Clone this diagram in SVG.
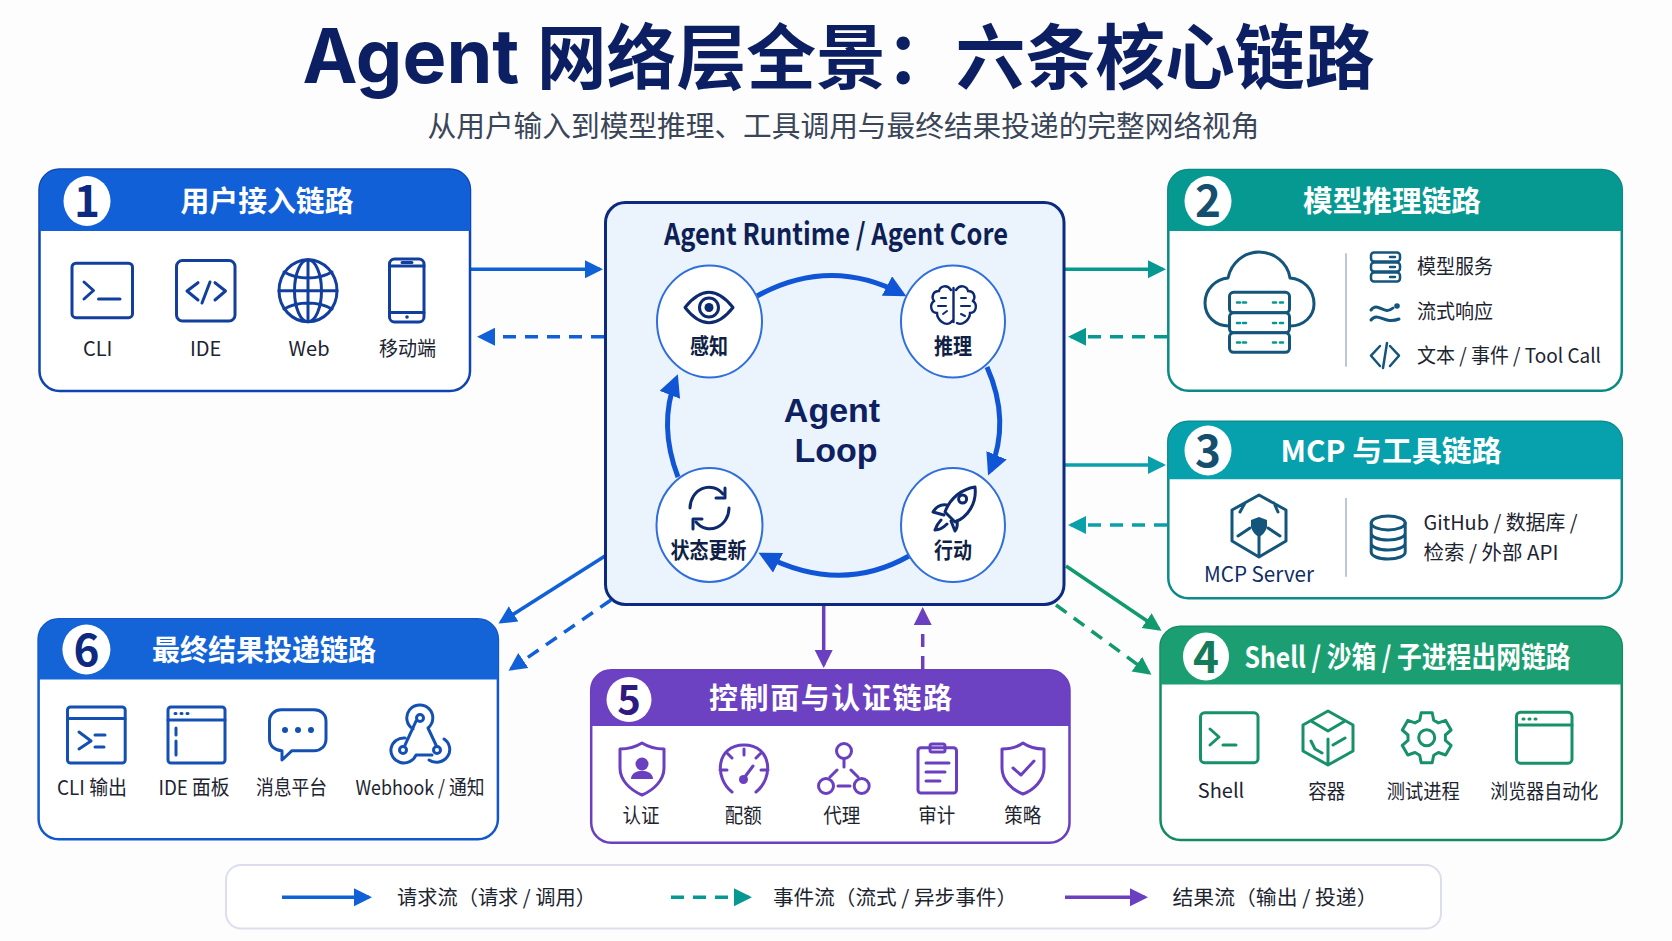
<svg xmlns="http://www.w3.org/2000/svg" width="1672" height="941" viewBox="0 0 1672 941">
<style>
text{font-family:"Noto Sans CJK SC","Noto Sans",sans-serif;text-anchor:middle;fill:#1c2430}
.hd{font-weight:700;fill:#fff;font-size:29px}
.num{font-weight:700;font-size:44px}
.lb{font-size:20px}
.st{fill:none;stroke-width:3;stroke-linecap:round;stroke-linejoin:round}
.badge{fill:#fff}
.blue{stroke:#123f9e}.b6{stroke:#1450b4}.teal{stroke:#14557c}.green{stroke:#16916a}.purple{stroke:#6a3fc0}.navy{stroke:#0d2a6e}
.ln{fill:none;stroke-width:3.5}
.dash{stroke-dasharray:13 9}
.loop{fill:none;stroke:#0f55d6;stroke-width:5}
.circ{fill:#fff;stroke:#2f6fdc;stroke-width:2}
.cn{font-weight:700;font-size:22px;fill:#0f1f45}
.big{font-family:"Liberation Sans",Arial,sans-serif;font-weight:700;font-size:34px;fill:#0d2060}
.div{stroke:#bcc6d8;stroke-width:2}
</style>
<defs>
<marker id="mB" markerUnits="userSpaceOnUse" markerWidth="20" markerHeight="20" refX="15" refY="9" orient="auto"><path d="M0 0L18 9L0 18z" fill="#1060d8"/></marker>
<marker id="mT" markerUnits="userSpaceOnUse" markerWidth="20" markerHeight="20" refX="15" refY="9" orient="auto"><path d="M0 0L18 9L0 18z" fill="#069992"/></marker>
<marker id="mC" markerUnits="userSpaceOnUse" markerWidth="20" markerHeight="20" refX="15" refY="9" orient="auto"><path d="M0 0L18 9L0 18z" fill="#0aa0ab"/></marker>
<marker id="mG" markerUnits="userSpaceOnUse" markerWidth="20" markerHeight="20" refX="15" refY="9" orient="auto"><path d="M0 0L18 9L0 18z" fill="#109a6e"/></marker>
<marker id="mP" markerUnits="userSpaceOnUse" markerWidth="20" markerHeight="20" refX="15" refY="9" orient="auto"><path d="M0 0L18 9L0 18z" fill="#6a3fc0"/></marker>
<marker id="mL" markerUnits="userSpaceOnUse" markerWidth="24" markerHeight="24" refX="17" refY="11" orient="auto"><path d="M0 0L22 11L0 22z" fill="#0f55d6"/></marker>
</defs>
<rect width="1672" height="941" fill="#fdfdfe"/>
<g id="title">
<text x="838.5" y="83" font-size="71" font-weight="700" textLength="1072" lengthAdjust="spacingAndGlyphs" style="fill:#0b1f62"><tspan style="font-family:Inter,'Noto Sans',sans-serif;font-size:75px">Agent </tspan>网络层全景：六条核心链路</text>
<text x="843.5" y="137" font-size="29" textLength="832" lengthAdjust="spacingAndGlyphs" style="fill:#3a4658">从用户输入到模型推理、工具调用与最终结果投递的完整网络视角</text>
</g>
<g id="connectors">
<path class="ln" stroke="#1060d8" marker-end="url(#mB)" d="M470 269.3H600"/>
<path class="ln dash" stroke="#1060d8" marker-end="url(#mB)" d="M604 336.7H480"/>
<path class="ln" stroke="#069992" marker-end="url(#mT)" d="M1064 269.3H1163"/>
<path class="ln dash" stroke="#069992" marker-end="url(#mT)" d="M1167 336.7H1071"/>
<path class="ln" stroke="#0aa0ab" marker-end="url(#mC)" d="M1064 465H1163"/>
<path class="ln dash" stroke="#0aa0ab" marker-end="url(#mC)" d="M1167 525H1071"/>
<path class="ln" stroke="#109a6e" marker-end="url(#mG)" d="M1066 566L1159 629"/>
<path class="ln dash" stroke="#109a6e" stroke-width="3" marker-end="url(#mG)" d="M1056 605L1149 673"/>
<path class="ln" stroke="#6a3fc0" marker-end="url(#mP)" d="M823.7 605V665"/>
<path class="ln dash" stroke="#6a3fc0" marker-end="url(#mP)" d="M922.7 669V610"/>
<path class="ln" stroke="#1060d8" marker-end="url(#mB)" d="M605 556L501 622"/>
<path class="ln dash" stroke="#1060d8" stroke-width="3" marker-end="url(#mB)" d="M611 600L511 669"/>
</g>
<g id="node-core">
<rect x="605.5" y="202.5" width="458.5" height="402" rx="20" fill="#ebf3fd" stroke="#0c2a80" stroke-width="3"/>
<text x="836" y="244.500" font-size="30" font-weight="700" textLength="344" lengthAdjust="spacingAndGlyphs" style="fill:#0d1f55">Agent Runtime / Agent Core</text>
<text class="big" x="832" y="421.500">Agent</text>
<text class="big" x="836" y="462">Loop</text>
<g id="loop-arrows">
<path class="loop" marker-end="url(#mL)" d="M757 296Q830 256 902 294"/>
<path class="loop" marker-end="url(#mL)" d="M987 367Q1011 421 990 471"/>
<path class="loop" marker-end="url(#mL)" d="M909 556Q840 595 763 555"/>
<path class="loop" marker-end="url(#mL)" d="M678 477Q658 425 676 379"/>
</g>
<g id="node-sense">
<ellipse class="circ" cx="709.5" cy="321.5" rx="52.5" ry="56"/>
<path class="st navy" d="M685 307.5Q709 277 733 307.5Q709 338 685 307.5z"/>
<circle class="st navy" cx="709" cy="307.5" r="9.5"/><circle cx="709" cy="307.5" r="4.5" fill="#0d2a6e"/>
<text class="cn" x="709" y="354" textLength="38" lengthAdjust="spacingAndGlyphs" font-size="20">感知</text>
</g>
<g id="node-reason">
<ellipse class="circ" cx="953" cy="321.5" rx="52" ry="56"/>
<path d="M953.5 288V322M951 290C947 284 940 286 939 291C933 291 931 297 934 301C929 305 931 313 937 313C937 320 945 326 950 323L953.5 320M956 290C960 284 967 286 968 291C974 291 976 297 973 301C978 305 976 313 970 313C970 320 962 326 957 323" fill="none" stroke="#0d2a6e" stroke-width="2.4" stroke-linecap="round"/>
<path d="M941 298h5M938 306h8M943 314l4-3M961 298h5M961 306h9M961 314l4 2" fill="none" stroke="#0d2a6e" stroke-width="2" stroke-linecap="round"/>
<text class="cn" x="953" y="354" textLength="38" lengthAdjust="spacingAndGlyphs" font-size="20">推理</text>
</g>
<g id="node-state">
<ellipse class="circ" cx="709.5" cy="525" rx="53" ry="57"/>
<path class="st navy" d="M690 508A19 21 0 0 1 723 494M729 508A19 21 0 0 1 696 522"/>
<path d="M725 488V498H716M693 529V519H702" fill="none" stroke="#0d2a6e" stroke-width="3" stroke-linejoin="round" stroke-linecap="round"/>
<text class="cn" x="708.5" y="558" textLength="76" lengthAdjust="spacingAndGlyphs" font-size="20">状态更新</text>
</g>
<g id="node-act">
<ellipse class="circ" cx="953" cy="525" rx="52" ry="57"/>
<path class="st navy" d="M975 487C962 489 950 498 945 512L955 522C968 517 977 503 975 487z"/>
<circle class="st navy" cx="962.6" cy="499" r="4"/>
<path class="st navy" d="M947 505C941 504 936 507 933 512L944 515M957 521C958 526 956 530 955 531L951 521M941 520C938 523 936 527 935 530C940 530 944 527 947 524"/>
<text class="cn" x="953" y="558" textLength="38" lengthAdjust="spacingAndGlyphs" font-size="20">行动</text>
</g>
</g>
<g id="node-1">
<rect x="39.5" y="169.5" width="430.5" height="221.5" rx="20" fill="#fff" stroke="#0f45b0" stroke-width="2.5"/>
<path d="M39.5 231V189.500a20 20 0 0 1 20-20H450a20 20 0 0 1 20 20V231z" fill="#1160d8"/>
<ellipse class="badge" cx="87" cy="201" rx="23.5" ry="25"/>
<text class="num" x="87" y="217" style="fill:#0e2a80">1</text>
<text class="hd" x="267" y="212" textLength="173" lengthAdjust="spacingAndGlyphs">用户接入链路</text>
<rect class="st blue" x="72" y="263.200" width="60.500" height="54.500" rx="4"/>
<path class="st blue" d="M84 282L93.5 290.5L84 299M98.5 299H120"/>
<rect class="st blue" x="176.500" y="260.500" width="58.500" height="60.500" rx="6"/>
<path class="st blue" d="M198 282.7L187 291L198 300M215 282.7L225.5 291L215 300M210 282L202 303"/>
<ellipse class="st blue" cx="308" cy="290.7" rx="29" ry="31"/>
<ellipse class="st blue" cx="308" cy="290.7" rx="13.5" ry="31"/>
<path class="st blue" d="M308 260V321M279 290.7H337M284 272C298 280 318 280 332 272M284 309C298 301 318 301 332 309"/>
<rect class="st blue" x="389.5" y="259" width="34.5" height="63" rx="5"/>
<path class="st blue" d="M390 266H424M390 312.5H424M402 262.500H412"/><circle cx="407" cy="317" r="1.8" fill="#123f9e"/>
<text class="lb" x="97.7" y="356">CLI</text>
<text class="lb" x="205.6" y="356">IDE</text>
<text class="lb" x="309" y="356">Web</text>
<text class="lb" x="407.6" y="356" textLength="57" lengthAdjust="spacingAndGlyphs">移动端</text>
</g>
<g id="node-2">
<rect x="1168.3" y="170" width="453.5" height="220.7" rx="20" fill="#fff" stroke="#0a8a84" stroke-width="2.5"/>
<path d="M1168.3 231V190a20 20 0 0 1 20-20H1601.8a20 20 0 0 1 20 20V231z" fill="#069992"/>
<ellipse class="badge" cx="1208" cy="201" rx="23.5" ry="25"/>
<text class="num" x="1208" y="217" style="fill:#154f70">2</text>
<text class="hd" x="1392" y="212" textLength="178" lengthAdjust="spacingAndGlyphs">模型推理链路</text>
<path class="st teal" d="M1229 326C1215 326 1205 316 1205 303C1205 289 1216 279 1228 278C1231 263 1244 252 1259 252C1274 252 1288 263 1290 278C1303 279 1314 289 1314 304C1314 316 1304 326 1290 326"/>
<g class="st teal">
<rect x="1229.5" y="292.3" width="60" height="20.5" rx="4" fill="#fff"/>
<rect x="1229.5" y="312.8" width="60" height="20" rx="4" fill="#fff"/>
<rect x="1229.5" y="332.8" width="60" height="19.5" rx="4" fill="#fff"/>
</g>
<path d="M1237 302.5h3M1243 302.5h3M1273 302.5h3M1280 302.5h3M1237 323h3M1243 323h3M1273 323h3M1280 323h3M1237 342.5h3M1243 342.5h3M1273 342.5h3M1280 342.5h3" stroke="#069992" stroke-width="2.6" stroke-linecap="round"/>
<path class="div" d="M1346 253.3V366.7"/>
<g class="st teal" style="stroke-width:2.5">
<rect x="1371" y="252.500" width="29" height="9" rx="3"/><rect x="1371" y="262.500" width="29" height="9" rx="3"/><rect x="1371" y="272.500" width="29" height="9" rx="3"/>
<path d="M1390 257h5M1390 267h5M1390 277h5"/>
<path d="M1371 310C1378 301 1384 316 1393 308M1371 320C1378 311 1384 325 1399 319" style="stroke-width:3"/>
<path d="M1380 346L1371 355.700L1380 366M1390 346L1399 355.700L1390 366M1387 343L1383 368"/>
</g>
<circle cx="1397" cy="306" r="2.800" fill="#14557c"/>
<text class="lb" x="1455" y="274" textLength="76" lengthAdjust="spacingAndGlyphs">模型服务</text>
<text class="lb" x="1455" y="319" textLength="76" lengthAdjust="spacingAndGlyphs">流式响应</text>
<text class="lb" x="1509" y="363" textLength="184" lengthAdjust="spacingAndGlyphs">文本 / 事件 / Tool Call</text>
</g>
<g id="node-3">
<rect x="1168.3" y="421.700" width="453.5" height="176.600" rx="20" fill="#fff" stroke="#0f8a88" stroke-width="2.5"/>
<path d="M1168.3 479.300V441.700a20 20 0 0 1 20-20H1601.8a20 20 0 0 1 20 20V479.300z" fill="#07a0ad"/>
<ellipse class="badge" cx="1208" cy="450.500" rx="23.5" ry="25"/>
<text class="num" x="1208" y="466.500" style="fill:#154f70">3</text>
<text class="hd" x="1391" y="461.500" textLength="221" lengthAdjust="spacingAndGlyphs">MCP 与工具链路</text>
<path class="st teal" d="M1259 495L1286 510V541L1259 557L1232 541V510zM1259 526V557M1245 503L1240 512M1274 503L1278 512M1238 536L1250 528M1280 536L1268 528"/>
<path d="M1251 520L1259 517L1267 520V527Q1265 534 1259 537Q1253 534 1251 527z" fill="#14557c"/>
<text x="1259" y="582" font-size="21" textLength="110" lengthAdjust="spacingAndGlyphs" style="fill:#0f2d66">MCP Server</text>
<path class="div" d="M1346 498V576.700"/>
<g class="st teal">
<ellipse cx="1388.200" cy="523" rx="17" ry="7"/>
<path d="M1371.200 523V552C1371.200 556 1378 559 1388.200 559C1398 559 1405.200 556 1405.200 552V523M1371.200 533C1371.200 537 1378 540 1388.200 540C1398 540 1405.200 537 1405.200 533M1371.200 543C1371.200 547 1378 550 1388.200 550C1398 550 1405.200 547 1405.200 543"/>
</g>
<text class="lb" x="1500.500" y="529.500" textLength="154" lengthAdjust="spacingAndGlyphs">GitHub / 数据库 /</text>
<text class="lb" x="1491" y="559.500" textLength="135" lengthAdjust="spacingAndGlyphs">检索 / 外部 API</text>
</g>
<g id="node-4">
<rect x="1160.500" y="626.700" width="461.300" height="213.300" rx="20" fill="#fff" stroke="#148a62" stroke-width="2.5"/>
<path d="M1160.500 684.500V646.700a20 20 0 0 1 20-20H1601.800a20 20 0 0 1 20 20V684.500z" fill="#1b9f72"/>
<ellipse class="badge" cx="1206" cy="656.500" rx="23" ry="24"/>
<text class="num" x="1206" y="672.500" style="fill:#157a5a">4</text>
<text class="hd" x="1407.500" y="667.500" textLength="326" lengthAdjust="spacingAndGlyphs" font-size="28">Shell / 沙箱 / 子进程出网链路</text>
<rect class="st green" x="1200.500" y="712.800" width="57.500" height="49.900" rx="4"/>
<path class="st green" d="M1210 729L1219 737L1210 745M1223 745H1236"/>
<path class="st green" d="M1328 711L1353 725V751L1328 765L1303 751V725zM1311 721L1328 731L1345 721M1328 739V765M1311 741L1315 749L1322 753M1333 745L1345 738"/>
<path class="st green" d="M1433.700 720.200L1432.200 712.700H1421.200L1419.700 720.200L1415 722.900L1407.800 720.400L1402.300 730L1408 735L1408 740.400L1402.300 745.400L1407.800 755L1415 752.500L1419.700 755.200L1421.200 762.700H1432.200L1433.700 755.200L1438.400 752.500L1445.600 755L1451.100 745.400L1445.400 740.400L1445.400 735L1451.100 730L1445.600 720.400L1438.400 722.900z"/>
<circle class="st green" cx="1426.700" cy="737.700" r="8"/>
<rect class="st green" x="1516.500" y="712.200" width="55.500" height="51" rx="4"/>
<path class="st green" d="M1517 725H1572"/>
<path d="M1523 719h1M1529 719h1M1535 719h1" stroke="#16916a" stroke-width="3" stroke-linecap="round"/>
<text class="lb" x="1221" y="798">Shell</text>
<text class="lb" x="1326.700" y="798.500" textLength="37" lengthAdjust="spacingAndGlyphs">容器</text>
<text class="lb" x="1423.300" y="798.500" textLength="73" lengthAdjust="spacingAndGlyphs">测试进程</text>
<text class="lb" x="1544.300" y="798.500" textLength="108" lengthAdjust="spacingAndGlyphs">浏览器自动化</text>
</g>
<g id="node-5">
<rect x="591.200" y="670.300" width="478.300" height="172.400" rx="20" fill="#fff" stroke="#6a3fc0" stroke-width="2.500"/>
<path d="M591.200 726V690.300a20 20 0 0 1 20-20H1049.500a20 20 0 0 1 20 20V726z" fill="#6c41c2"/>
<circle class="badge" cx="629" cy="699.500" r="22.500"/>
<text class="num" x="629" y="714" style="font-size:40px;fill:#2f1a80">5</text>
<text class="hd" x="830.500" y="709" textLength="243" font-size="28">控制面与认证链路</text>
<path class="st purple" d="M642 743C650 748 656 749 664 749V768C664 780 654 790 642 795C630 790 620 780 620 768V749C628 749 634 748 642 743z"/>
<circle cx="642" cy="764" r="6.500" fill="#6a3fc0"/><path d="M631 779C631 768 653 768 653 779z" fill="#6a3fc0"/>
<path class="st purple" d="M732 792C714 778 716 745 744 745C772 745 774 778 756 792M744 749V755M727 753L732 758M761 753L756 758M720 770H727M761 770H768M744 778L753 766"/>
<circle cx="743.500" cy="779.500" r="4.500" fill="#6a3fc0"/>
<circle class="st purple" cx="844" cy="751" r="7.500"/><circle class="st purple" cx="826" cy="786" r="7.500"/><circle class="st purple" cx="861.700" cy="786" r="7.500"/>
<path class="st purple" d="M844 759V767M837 770L830 777M851 770L858 777M838 786H850"/>
<rect class="st purple" x="918" y="747.700" width="38.500" height="45.300" rx="3"/>
<rect class="st purple" x="930" y="744" width="15" height="8" rx="2" fill="#fff"/>
<path class="st purple" d="M926 763H949M926 772H945M926 781H940"/>
<path class="st purple" d="M1023 743C1030 748 1036 749 1044 749V768C1044 780 1034 790 1023 794C1012 790 1002 780 1002 768V749C1010 749 1016 748 1023 743z"/>
<path class="st purple" d="M1013 768L1021 775L1034 761"/>
<text class="lb" x="641" y="823" textLength="37" lengthAdjust="spacingAndGlyphs">认证</text>
<text class="lb" x="743.300" y="823" textLength="37" lengthAdjust="spacingAndGlyphs">配额</text>
<text class="lb" x="841.700" y="823" textLength="37" lengthAdjust="spacingAndGlyphs">代理</text>
<text class="lb" x="936.700" y="823" textLength="37" lengthAdjust="spacingAndGlyphs">审计</text>
<text class="lb" x="1022.700" y="823" textLength="37" lengthAdjust="spacingAndGlyphs">策略</text>
</g>
<g id="node-6">
<rect x="38.600" y="619.300" width="459.300" height="220" rx="20" fill="#fff" stroke="#1258cc" stroke-width="2.500"/>
<path d="M38.600 679.500V639.300a20 20 0 0 1 20-20H477.900a20 20 0 0 1 20 20V679.500z" fill="#1464d8"/>
<ellipse class="badge" cx="86.400" cy="649.500" rx="24" ry="25"/>
<text class="num" x="86.400" y="665.500" style="fill:#0e2a80">6</text>
<text class="hd" x="264" y="661" textLength="224" lengthAdjust="spacingAndGlyphs">最终结果投递链路</text>
<rect class="st b6" x="67.500" y="707" width="57.700" height="56" rx="3"/>
<path class="st b6" d="M68 718.500H125M79 732L91 741L79 749M95 735H105M95 747H104"/>
<rect class="st b6" x="168" y="707" width="57" height="56" rx="3"/>
<path class="st b6" d="M168 720H225M176 728V735M176 741V755"/>
<path d="M175 713.500h1M181 713.500h1M187 713.500h1" stroke="#1450b4" stroke-width="3" stroke-linecap="round"/>
<path class="st b6" d="M281 709.800H314C321 709.800 326 714 326 721V739C326 746 321 750.700 314 750.700H292L282 760V750.700C275 750.700 269.500 746 269.500 739V721C269.500 714 275 709.800 281 709.800z"/>
<circle cx="285" cy="730" r="3" fill="#1450b4"/><circle cx="298" cy="730" r="3" fill="#1450b4"/><circle cx="311" cy="730" r="3" fill="#1450b4"/>
<circle class="st b6" cx="420" cy="718" r="3.500"/>
<circle class="st b6" cx="403" cy="750" r="3.500"/>
<circle class="st b6" cx="437" cy="750" r="3.500"/>
<path class="st b6" d="M413 729A13 13 0 1 1 428 728L436 745M416 721L405 745M405 738A13 12.500 0 1 0 416 755H432M444 739A13 12.500 0 1 1 429 760"/>
<text class="lb" x="92" y="795" textLength="70" lengthAdjust="spacingAndGlyphs">CLI 输出</text>
<text class="lb" x="194" y="795" textLength="71" lengthAdjust="spacingAndGlyphs">IDE 面板</text>
<text class="lb" x="291.400" y="795" textLength="71" lengthAdjust="spacingAndGlyphs">消息平台</text>
<text class="lb" x="420" y="795" textLength="129" lengthAdjust="spacingAndGlyphs">Webhook / 通知</text>
</g>
<g id="legend">
<rect x="226" y="865" width="1215" height="63.500" rx="15" fill="#fff" stroke="#dcdeee" stroke-width="2"/>
<path class="ln" stroke="#1060d8" stroke-width="4" marker-end="url(#mB)" d="M282 897.300H369"/>
<path class="ln dash" stroke="#069992" marker-end="url(#mT)" d="M671 897.300H749" stroke-dasharray="11 7"/>
<path class="ln" stroke="#6a3fc0" marker-end="url(#mP)" d="M1065 897.300H1145"/>
<text class="lb" x="496.500" y="904.500" textLength="199" lengthAdjust="spacingAndGlyphs">请求流（请求 / 调用）</text>
<text class="lb" x="895" y="904.500" textLength="244" lengthAdjust="spacingAndGlyphs">事件流（流式 / 异步事件）</text>
<text class="lb" x="1275" y="904.500" textLength="205" lengthAdjust="spacingAndGlyphs">结果流（输出 / 投递）</text>
</g>
</svg>
